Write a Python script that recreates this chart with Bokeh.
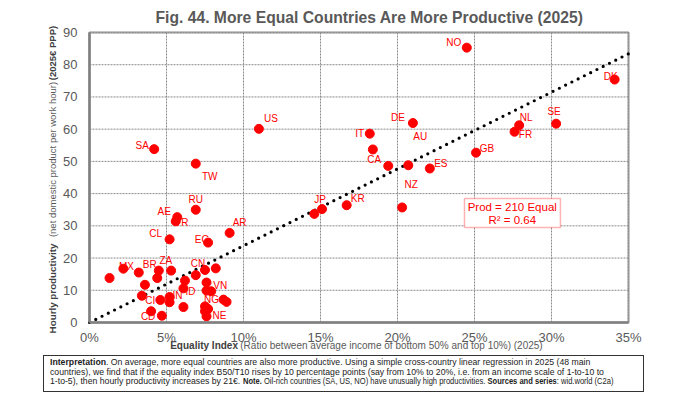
from bokeh.plotting import figure
from bokeh.models import (Range1d, FixedTicker, PrintfTickFormatter, Label,
                          BoxAnnotation, ColumnDataSource, Div)
from bokeh.layouts import column
from bokeh.core.properties import value
from bokeh.embed import file_html
from bokeh.resources import INLINE

# country codes ("" = unlabeled point), equality index (%), productivity (EUR/hour)
codes = ["NO", "DK", "DE", "NL", "SE", "FR", "IT", "", "CA", "AU",
         "ES", "GB", "NZ", "KR", "JP", "", "US", "SA", "TW", "RU",
         "AE", "TR", "AR", "CL", "EG", "MX", "BR", "ZA", "", "CN",
         "", "", "", "", "", "", "ID", "", "VN", "",
         "CI", "IN", "", "NG", "", "CD", "", "", "", "",
         "", "", "NE"]
equality = [24.5, 34.1, 21.0, 27.9, 30.3, 27.6, 18.2, 18.4, 19.4, 20.7,
            22.1, 25.1, 20.3, 16.7, 15.1, 14.6, 11.0, 4.2, 6.9, 6.9,
            5.7, 5.6, 9.1, 5.2, 7.7, 2.2, 3.2, 4.5, 5.3, 7.5,
            8.2, 1.3, 4.4, 6.9, 3.6, 6.2, 6.1, 7.6, 7.9, 3.4,
            4.6, 5.2, 5.2, 8.7, 8.9, 4.0, 4.7, 6.1, 7.6, 7.5,
            7.7, 7.5, 7.6]
productivity = [85.3, 75.4, 61.9, 61.2, 61.7, 59.2, 58.6, 53.7, 48.6, 48.8,
                47.8, 52.7, 35.7, 36.4, 35.2, 33.7, 60.1, 53.8, 49.3, 35.0,
                32.7, 31.4, 27.8, 25.8, 24.8, 16.7, 15.5, 16.1, 16.1, 16.3,
                16.8, 13.8, 13.8, 14.7, 11.7, 13.0, 10.6, 12.4, 9.7, 8.3,
                7.0, 7.9, 6.3, 7.1, 6.4, 3.5, 2.1, 4.8, 9.9, 5.0,
                4.2, 3.5, 1.9]

trend_x = [0, 35]
trend_y = [0, 83.4]
fit_text = ["Prod = 210 Equal", "R² = 0.64"]

x_ticks = [0, 5, 10, 15, 20, 25, 30, 35]
y_ticks = [0, 10, 20, 30, 40, 50, 60, 70, 80, 90]

title = "Fig. 44. More Equal Countries Are More Productive (2025)"
x_title = ["Equality Index",
           "(Ratio between average income of bottom 50% and top 10%) (2025)"]
y_title = ["Hourly productivity", "(net domestic product per work hour)",
           "(2025€ PPP)"]

# label placement relative to its dot, in pixels (dx, dy down)
label_offsets = {
    "NO": (-13, -5), "DK": (-4, -3), "DE": (-15, -6), "NL": (7, -8),
    "SE": (-2, -12), "FR": (11, 3), "IT": (-10, 0), "CA": (-14, -6),
    "AU": (12, -29), "ES": (11, -5), "GB": (11, -4), "NZ": (9, -23),
    "KR": (11, -7), "JP": (-2, -10), "US": (12, -10), "SA": (-12, -4),
    "TW": (14, 13), "RU": (0, -10), "AE": (-13, -6), "TR": (6, 1),
    "AR": (10, -10), "CL": (-14, -6), "EG": (-6, -3), "MX": (3, -2),
    "BR": (11, -8), "ZA": (7, -10), "CN": (-7, -6), "VN": (9, -6),
    "IN": (8, -2), "ID": (7, 3), "NG": (-12, 0), "CI": (-10, 1),
    "CD": (-3, 5), "NE": (13, -1),
}

FONT = "Liberation Sans"
RED = "#ff0000"
GREY = "#595959"
DARK = "#404040"

src = ColumnDataSource(dict(
    x=equality, y=productivity, code=codes,
    dx=[label_offsets.get(c, (0, 0))[0] for c in codes],
    dy=[label_offsets.get(c, (0, 0))[1] for c in codes],
))

# the frame fills the whole figure; the plotting area is 0-35 x 0-90 inside it
PX_X = 539 / 35
PX_Y = 290 / 90
p = figure(width=680, height=355,
           x_range=Range1d(-89 / PX_X, 35 + 52 / PX_X),
           y_range=Range1d(-33 / PX_Y, 90 + 32 / PX_Y),
           output_backend="svg", toolbar_location=None,
           min_border_left=0, min_border_right=0,
           min_border_top=0, min_border_bottom=0)
p.title.visible = False
p.outline_line_color = None
p.grid.visible = False

p.xaxis.fixed_location = 0
p.yaxis.fixed_location = 0
p.xaxis.bounds = (0, 35)
p.yaxis.bounds = (0, 90)
p.xaxis.ticker = FixedTicker(ticks=x_ticks)
p.yaxis.ticker = FixedTicker(ticks=y_ticks)
p.xaxis.formatter = PrintfTickFormatter(format="%d%%")
p.axis.major_label_text_font = FONT
p.axis.major_label_text_font_size = "13px"
p.axis.major_label_text_color = GREY
p.axis.major_tick_line_color = None
p.axis.minor_tick_line_color = None
p.axis.major_tick_out = 0
p.axis.major_tick_in = 0
p.axis.axis_line_color = "#808080"
p.axis.axis_line_width = 2.5
p.xaxis.major_label_standoff = 7
p.yaxis.major_label_standoff = 12

# dotted grid and the black frame of the plotting area
p.segment(x_ticks, 0, x_ticks, 90, line_color="#8a8a8a", line_width=1, line_dash="2 1")
p.segment(0, y_ticks, 35, y_ticks, line_color="#8a8a8a", line_width=1, line_dash="2 1")
p.add_layout(BoxAnnotation(left=0, right=35, bottom=0, top=90, fill_color=None,
                           line_color="black", line_width=2.5, level="underlay"))

p.line(trend_x, trend_y, line_color="black", line_width=3.2,
       line_dash="0 7", line_cap="round")

p.text("x", "y", text="code", source=src, x_offset="dx", y_offset="dy",
       text_font=value(FONT), text_font_size="10px", text_color=RED,
       text_align="center", text_baseline="middle")
p.scatter("x", "y", source=src, size=9, fill_color=RED, line_color=RED)

# regression box
p.add_layout(BoxAnnotation(left=24.35, right=30.58, bottom=29.5, top=38.5,
                           fill_color="white", fill_alpha=1,
                           line_color=RED, line_width=1.5))
for txt, yy in zip(fit_text, [35.8, 31.9]):
    p.add_layout(Label(x=27.45, y=yy, text=txt, text_font=FONT,
                       text_font_size="11.5px", text_color=RED,
                       text_align="center", text_baseline="middle"))

# title
p.add_layout(Label(x=18.18, y=94.66, text=title, text_font=FONT,
                   text_font_size="15.7px", text_font_style="bold",
                   text_color=GREY, text_align="center", text_baseline="middle"))

# x axis title: bold part then plain part, each centred on its own span
p.text(x=[7.44], y=[-7.14], text=[x_title[0]], text_font=value(FONT),
       text_font_size="10px", text_font_style="bold", text_color=DARK,
       text_align="center", text_baseline="middle")
p.text(x=[19.61], y=[-7.14], text=[x_title[1]], text_font=value(FONT),
       text_font_size="10px", text_color=GREY,
       text_align="center", text_baseline="middle")

# y axis title, read bottom to top
for txt, yy, size, style, col in zip(y_title, [10.55, 50.59, 83.64],
                                     ["9.8px", "9.5px", "9.5px"],
                                     ["bold", "normal", "bold"],
                                     [DARK, GREY, DARK]):
    p.text(x=[-2.4], y=[yy], text=[txt], angle=1.5708, text_font=value(FONT),
           text_font_size=size, text_font_style=style, text_color=col,
           text_align="center", text_baseline="middle")

note = (
    '<div style="box-sizing:border-box;width:601px;height:37px;'
    'border:1.5px solid #333;padding:2px 6px;font-family:\'Liberation Sans\';'
    'font-size:8.7px;line-height:9.7px;color:#222;white-space:nowrap;overflow:hidden;">'
    '<b>Interpretation</b>. On average, more equal countries are also more productive. '
    'Using a simple cross-country linear regression in 2025 (48 main<br>'
    'countries), we find that if the equality index B50/T10 rises by 10 percentage points '
    '(say from 10% to 20%, i.e. from an income scale of 1-to-10 to<br>'
    '1-to-5), then hourly productivity increases by 21€. '
    '<span style="display:inline-block;transform:scaleX(0.87);transform-origin:left;">'
    '<b>Note.</b> Oil-rich countries (SA, US, NO) have unusually high productivities. '
    '<b>Sources and series</b>: wid.world (C2a)</span></div>'
)
div = Div(text=note, width=601, height=37, margin=(0, 0, 0, 43))

page = column(p, div)
open("out.html", "w").write(file_html(page, INLINE))
